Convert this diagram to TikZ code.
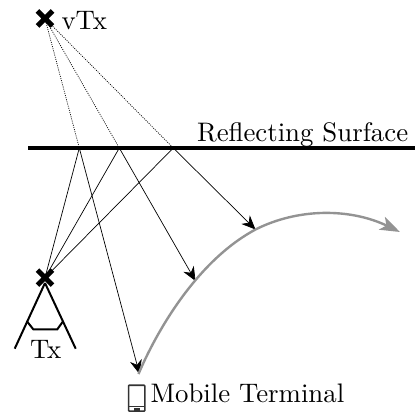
\documentclass[tikz,border=0pt]{standalone}
\usetikzlibrary{arrows.meta}
\tikzset{
 xmark/.style={line width=5pt},
 dotline/.style={line width=0.7pt,dash pattern=on 1pt off 1.2pt},
 ray/.style={line width=0.7pt},
 rayarrow/.style={line width=0.7pt,-{Stealth[length=14pt,width=12pt,inset=4.5pt]}},
 txline/.style={line width=2pt},
 lab/.style={inner sep=0pt,scale=2.68,anchor=base west}
}
\begin{document}
\begin{tikzpicture}[x=1pt,y=-1pt]
\useasboundingbox (0,0) rectangle (415,412);
\coordinate (vtx) at (45,18.5);
\coordinate (tx) at (45,277.7);
\coordinate (s1) at (79.3,148);
\coordinate (s2) at (119.3,148);
\coordinate (s3) at (173.3,148);
\coordinate (e1) at (139.5,374);
\coordinate (e2) at (195.5,281);
\coordinate (e3) at (255.5,229.5);
\coordinate (surfL) at (28,148);
\coordinate (surfR) at (414.5,148);
\draw[line width=4.3pt] (surfL) -- (surfR);
\draw[dotline] (vtx) -- (s1);
\draw[dotline] (vtx) -- (s2);
\draw[dotline] (vtx) -- (s3);
\draw[ray] (tx) -- (s1);
\draw[ray] (tx) -- (s2);
\draw[ray] (tx) -- (s3);
\draw[rayarrow] (s1) -- (e1);
\draw[rayarrow] (s2) -- (e2);
\draw[rayarrow] (s3) -- (e3);
\draw[gray!85,line width=2.4pt,-{Stealth[length=20pt,width=14pt,inset=5pt]}]
  (138.5,374) .. controls (155,335) and (195,262) .. (255.5,229.5)
  .. controls (298,208) and (350,208) .. (400,232);
\draw[xmark] (37.5,11) -- (52.5,26) (52.5,11) -- (37.5,26);
\draw[xmark] (37.5,270.2) -- (52.5,285.2) (52.5,270.2) -- (37.5,285.2);
\draw[txline] (45,283) -- (14.7,348.7);
\draw[txline] (45,283) -- (75.7,348.7);
\draw[txline] (26.7,321) -- (33.3,329.3) -- (57.3,329.3) -- (63.3,321);
\node[lab] (lv) at (61,29.3) {vTx};
\node[lab] (lr) at (196.5,141) {Reflecting Surface};
\node[lab] (lt) at (29.5,358.3) {Tx};
\node[lab] (lm) at (150,402) {Mobile Terminal};
\draw[line width=1.6pt,black!80,rounded corners=0.8pt] (128.6,385.2) rectangle (144.8,411.2);
\draw[line width=1pt,black!80] (129,406.8) -- (144.5,406.8);
\fill[black!80] (134,408.3) rectangle (139.5,411);
\end{tikzpicture}
\end{document}
